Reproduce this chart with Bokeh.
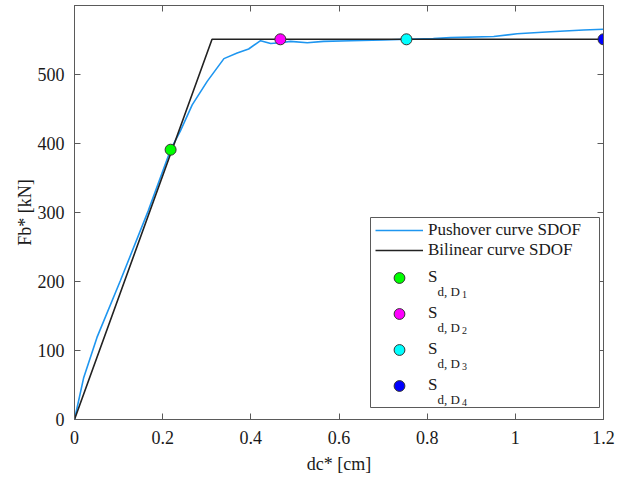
from bokeh.plotting import figure
from bokeh.models import (Range1d, FixedTicker, LinearAxis, Legend, LegendItem,
                          Label, BoxAnnotation)
from bokeh.embed import file_html
from bokeh.resources import INLINE

# ---------------- data ----------------
push_x = [0, 0.021, 0.051, 0.104, 0.167, 0.218, 0.240, 0.267, 0.301, 0.339, 0.369,
          0.395, 0.422, 0.445, 0.467, 0.490, 0.528, 0.565, 0.626, 0.700, 0.753,
          0.814, 0.853, 0.951, 1.004, 1.080, 1.155, 1.200]
push_y = [0, 61, 119, 201, 302, 391, 418, 456, 490, 523, 531,
          537, 549, 545, 546, 548, 546, 548, 549, 550, 551,
          552, 553.5, 555, 559, 562, 564.6, 565.5]

bilin_x = [0, 0.312, 1.2]
bilin_y = [0, 551, 551]

pts_x = [0.218, 0.467, 0.753, 1.2]
pts_y = [391, 551, 551, 551]
pts_sub = ["1", "2", "3", "4"]
pts_colors = ["#00ff00", "#ff00ff", "#00ffff", "#0000ff"]

x_ticks = [0, 0.2, 0.4, 0.6, 0.8, 1.0, 1.2]
x_tick_labels = ["0", "0.2", "0.4", "0.6", "0.8", "1", "1.2"]
y_ticks = [0, 100, 200, 300, 400, 500]
y_tick_labels = ["0", "100", "200", "300", "400", "500"]

legend_lines = ["Pushover curve SDOF", "Bilinear curve SDOF"]
x_title = "dc* [cm]"
y_title = "Fb* [kN]"

# ---------------- style ----------------
FONT = "Liberation Serif"
TXT = "#1a1a1a"
AX = "#5a5a5a"
BLUE = "#1e96f0"
BLACK = "#222222"

FL, FB = 74, 419  # frame left / bottom in page pixels (for screen-unit annotations)

p = figure(width=621, height=480, output_backend="svg", toolbar_location=None,
           x_range=Range1d(0, 1.2), y_range=Range1d(0, 600),
           min_border_left=74, min_border_right=18, min_border_top=5, min_border_bottom=61,
           background_fill_color="white", border_fill_color="white",
           outline_line_color=AX)
p.grid.visible = False

def style_axis(ax, ticks, labels, show_labels=True):
    ax.ticker = FixedTicker(ticks=ticks)
    ax.major_label_overrides = {t: l for t, l in zip(ticks, labels)}
    ax.major_tick_in = 6
    ax.major_tick_out = 0
    ax.minor_tick_in = 0
    ax.minor_tick_out = 0
    ax.axis_line_color = AX
    ax.major_tick_line_color = AX
    ax.major_label_text_font = FONT
    if show_labels:
        ax.major_label_text_color = TXT
        ax.major_label_text_font_size = "18px"
        ax.major_label_standoff = 11
    else:
        ax.major_label_text_color = None
        ax.major_label_text_font_size = "1px"
        ax.major_label_standoff = 0

style_axis(p.xaxis[0], x_ticks, x_tick_labels)
style_axis(p.yaxis[0], y_ticks, y_tick_labels)
p.yaxis[0].major_label_standoff = 10

for ax, t in ((p.xaxis[0], x_title), (p.yaxis[0], y_title)):
    ax.axis_label = t
    ax.axis_label_text_font = FONT
    ax.axis_label_text_font_size = "18px"
    ax.axis_label_text_font_style = "normal"
    ax.axis_label_text_color = TXT
p.xaxis[0].axis_label_standoff = 7
p.yaxis[0].axis_label_standoff = 0

top_ax = LinearAxis()
style_axis(top_ax, x_ticks, x_tick_labels, show_labels=False)
p.add_layout(top_ax, "above")
right_ax = LinearAxis()
style_axis(right_ax, y_ticks, y_tick_labels, show_labels=False)
p.add_layout(right_ax, "right")

# ---------------- glyphs ----------------
r_push = p.line(push_x, push_y, line_color=BLUE, line_width=1.6)
r_bil = p.line(bilin_x, bilin_y, line_color=BLACK, line_width=1.6)
r_pts = []
for i in range(len(pts_x)):
    r = p.scatter([pts_x[i]], [pts_y[i]], marker="circle", size=11,
                  fill_color=pts_colors[i], line_color="#333333", line_width=1)
    r_pts.append(r)

# ---------------- legend ----------------
box = BoxAnnotation(left=370 - FL, right=599 - FL, top=FB - 217, bottom=FB - 407,
                    left_units="screen", right_units="screen",
                    top_units="screen", bottom_units="screen",
                    fill_color="white", fill_alpha=1.0,
                    line_color=AX, line_width=1, line_alpha=1.0)
p.add_layout(box)

leg_a = Legend(items=[LegendItem(label=legend_lines[0], renderers=[r_push]),
                      LegendItem(label=legend_lines[1], renderers=[r_bil])],
               location=(375 - FL, FB - 260), orientation="vertical",
               glyph_width=48, glyph_height=20, label_height=20, spacing=0,
               padding=0, margin=0, label_standoff=5,
               label_text_font=FONT, label_text_font_size="17px",
               label_text_color=TXT,
               border_line_color=None, background_fill_alpha=0)
p.add_layout(leg_a)

leg_b = Legend(items=[LegendItem(label="S", renderers=[r]) for r in r_pts],
               location=(375 - FL, FB - 398.5), orientation="vertical",
               glyph_width=48, glyph_height=27, label_height=27, spacing=9,
               padding=0, margin=0, label_standoff=5,
               label_text_font=FONT, label_text_font_size="17px",
               label_text_color=TXT, label_text_baseline="alphabetic",
               border_line_color=None, background_fill_alpha=0)
p.add_layout(leg_b)

row_cy = [277, 313, 349, 385]
for cy, sub in zip(row_cy, pts_sub):
    p.add_layout(Label(x=437 - FL, y=FB - (cy + 14), x_units="screen", y_units="screen",
                       text="d, D", text_font=FONT, text_font_size="13px",
                       text_color=TXT, text_baseline="alphabetic", text_align="left"))
    p.add_layout(Label(x=461.5 - FL, y=FB - (cy + 17), x_units="screen", y_units="screen",
                       text=sub, text_font=FONT, text_font_size="10px",
                       text_color=TXT, text_baseline="alphabetic", text_align="left"))

open("out.html", "w").write(file_html(p, INLINE))
